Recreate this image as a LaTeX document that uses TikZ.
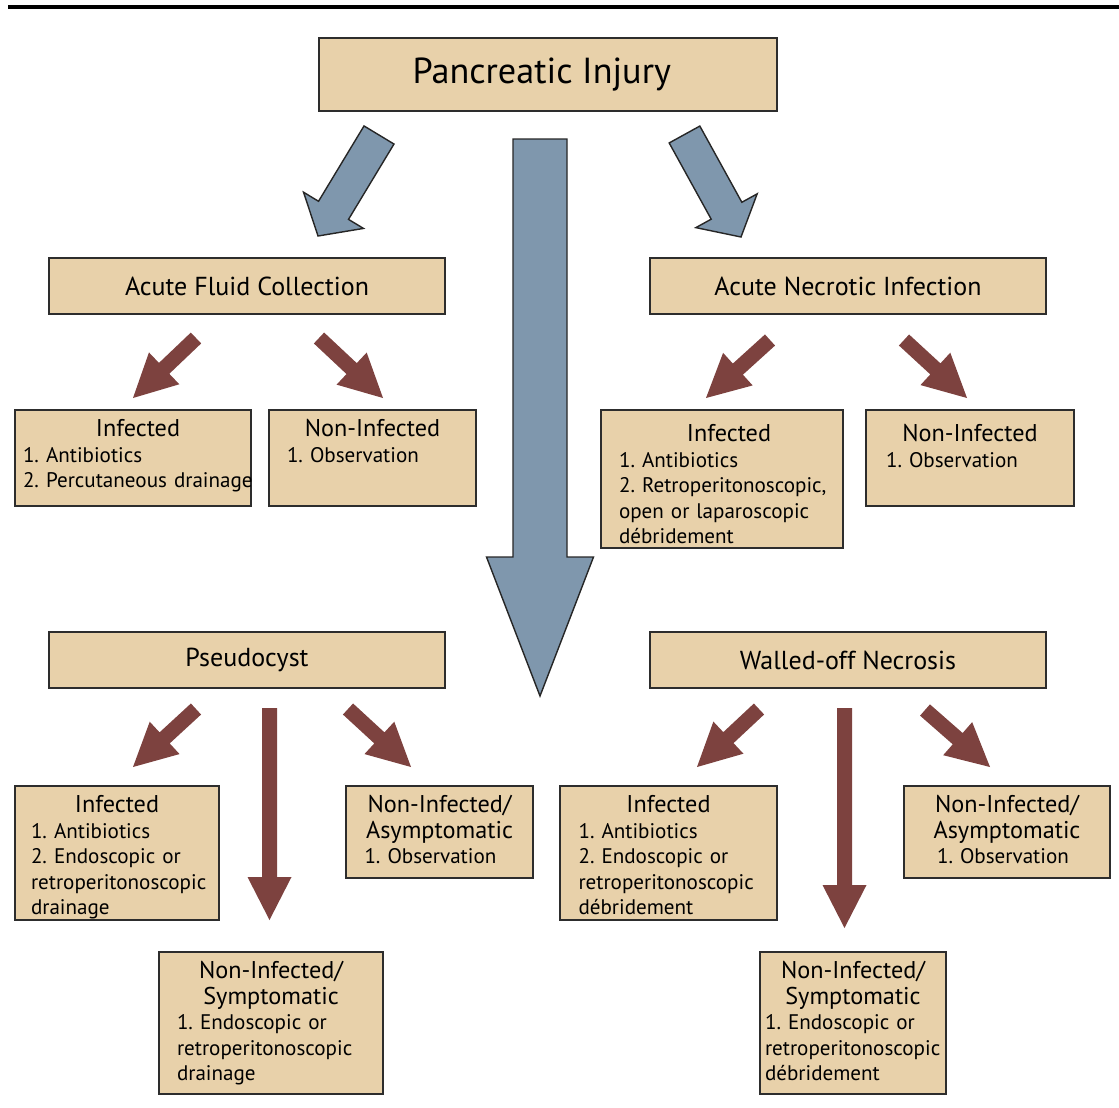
\documentclass[tikz,border=0pt]{standalone}
\usepackage{fontspec}
\setmainfont{PT Sans}
\usetikzlibrary{calc}
\definecolor{boxfill}{RGB}{232,209,170}
\definecolor{boxline}{RGB}{45,45,45}
\definecolor{steel}{RGB}{127,151,173}
\definecolor{wine}{RGB}{125,66,63}
\newcommand{\titlefont}{\fontsize{20.6}{24}\selectfont}
\newcommand{\groupfont}{\fontsize{14.8}{17}\selectfont}
\newcommand{\hdfont}{\fontsize{13.8}{15.3}\selectfont}
\newcommand{\listfont}{\fontsize{12}{14.5}\selectfont\frenchspacing\hyphenpenalty=10000\exhyphenpenalty=10000}
\newcommand{\hd}[1]{\makebox[\linewidth]{\hdfont #1}}
% block arrow: style, from, to, shaft half width, head half width, head length
\newcommand{\blockarrow}[6]{%
  \coordinate (ah) at ($(#3)!#6!(#2)$);
  \path[#1] ($(#2)!#4!90:(#3)$) -- ($(ah)!#4!90:(#3)$) -- ($(ah)!#5!90:(#3)$) -- (#3)
    -- ($(ah)!#5!-90:(#3)$) -- ($(ah)!#4!-90:(#3)$) -- ($(#2)!#4!-90:(#3)$) -- cycle;}

\begin{document}
\begin{tikzpicture}[
  box/.style={draw=boxline, line width=0.8pt, fill=boxfill, inner sep=0pt},
  txt/.style={anchor=north, align=left, inner sep=0pt, font=\listfont},
  bluearrow/.style={draw=black!85, line width=0.8pt, fill=steel, line join=miter},
  redarrow/.style={fill=wine}
]
  \useasboundingbox (0,0) rectangle (22.38,-22.14);
  \draw[line width=2.3pt] (0.16,-0.14) -- (22.38,-0.14);

  % Injury
  \node[box, minimum width=9.16cm, minimum height=1.46cm, font=\titlefont] (inj) at (10.96,-1.49) {Pancreatic Injury\hspace*{0.25cm}};

  % Early collections
  \node[box, minimum width=7.92cm, minimum height=1.12cm, font=\groupfont] (afc) at (4.94,-5.72) {Acute Fluid Collection};
  \node[box, minimum width=7.92cm, minimum height=1.12cm, font=\groupfont] (ani) at (16.96,-5.72) {Acute Necrotic Infection};

  \coordinate (injl) at (7.58,-2.70);  \coordinate (afctip) at (6.36,-4.72);
  \coordinate (injr) at (13.69,-2.69); \coordinate (anitip) at (14.82,-4.74);
  \coordinate (injc) at (10.80,-2.78); \coordinate (latetip) at (10.80,-13.92);
  \blockarrow{bluearrow}{injl}{afctip}{0.35cm}{0.70cm}{0.60cm}
  \blockarrow{bluearrow}{injr}{anitip}{0.35cm}{0.70cm}{0.60cm}
  \blockarrow{bluearrow}{injc}{latetip}{0.54cm}{1.07cm}{2.78cm}

  % Acute fluid collection
  \node[box, minimum width=4.72cm, minimum height=1.92cm] (afcinf) at (2.66,-9.16) {};
  \node[txt, text width=4.60cm] at ([xshift=0.1cm,yshift=-0.2cm]afcinf.north) {\hd{Infected}\\1. Antibiotics\\2. Percutaneous drainage};
  \node[box, minimum width=4.14cm, minimum height=1.92cm] (afcnon) at (7.45,-9.16) {};
  \node[txt, text width=3.42cm] at ([yshift=-0.2cm]afcnon.north) {\hd{Non-Infected}\\1. Observation};

  \coordinate (afcl) at (3.92,-6.76); \coordinate (afcinftip) at (2.66,-7.96);
  \coordinate (afcr) at (6.38,-6.76); \coordinate (afcnontip) at (7.66,-7.96);
  \blockarrow{redarrow}{afcl}{afcinftip}{0.15cm}{0.44cm}{0.86cm}
  \blockarrow{redarrow}{afcr}{afcnontip}{0.15cm}{0.44cm}{0.86cm}

  % Acute necrotic infection
  \node[box, minimum width=4.84cm, minimum height=2.76cm] (aniinf) at (14.44,-9.58) {};
  \node[txt, text width=4.40cm] at ([xshift=0.14cm,yshift=-0.3cm]aniinf.north) {\hd{Infected}\\1. Antibiotics\\2. Retroperitonoscopic,\\open or laparoscopic\\débridement};
  \node[box, minimum width=4.16cm, minimum height=1.92cm] (aninon) at (19.40,-9.16) {};
  \node[txt, text width=3.36cm] at ([yshift=-0.3cm]aninon.north) {\hd{Non-Infected}\\1. Observation};

  \coordinate (anil) at (15.40,-6.80); \coordinate (aniinftip) at (14.12,-7.96);
  \coordinate (anir) at (18.08,-6.80); \coordinate (aninontip) at (19.34,-7.96);
  \blockarrow{redarrow}{anil}{aniinftip}{0.15cm}{0.44cm}{0.86cm}
  \blockarrow{redarrow}{anir}{aninontip}{0.15cm}{0.44cm}{0.86cm}

  % Late collections
  \node[box, minimum width=7.92cm, minimum height=1.12cm, font=\groupfont] (pc) at (4.94,-13.2) {Pseudocyst};
  \node[box, minimum width=7.92cm, minimum height=1.12cm, font=\groupfont] (won) at (16.96,-13.2) {Walled-off Necrosis};

  % Pseudocyst
  \node[box, minimum width=4.08cm, minimum height=2.68cm] (pcinf) at (2.34,-17.06) {};
  \node[txt, text width=3.44cm] at ([yshift=-0.2cm]pcinf.north) {\hd{Infected}\\1. Antibiotics\\2. Endoscopic or\\retroperitonoscopic\\drainage};
  \node[box, minimum width=3.74cm, minimum height=1.84cm] (pcasym) at (8.79,-16.64) {};
  \node[txt, text width=3.00cm] at ([yshift=-0.2cm]pcasym.north) {\hd{Non-Infected/}\\\hd{Asymptomatic}\\1. Observation};
  \node[box, minimum width=4.48cm, minimum height=2.84cm] (pcsym) at (5.42,-20.46) {};
  \node[txt, text width=3.76cm] at ([yshift=-0.2cm]pcsym.north) {\hd{Non-Infected/}\\\hd{Symptomatic}\\1. Endoscopic or\\retroperitonoscopic\\drainage};

  \coordinate (pcl) at (3.92,-14.18); \coordinate (pcinftip) at (2.66,-15.34);
  \coordinate (pcc) at (5.39,-14.16); \coordinate (pcsymtip) at (5.39,-18.40);
  \coordinate (pcr) at (6.96,-14.18); \coordinate (pcasymtip) at (8.22,-15.34);
  \blockarrow{redarrow}{pcl}{pcinftip}{0.15cm}{0.44cm}{0.86cm}
  \blockarrow{redarrow}{pcc}{pcsymtip}{0.15cm}{0.44cm}{0.86cm}
  \blockarrow{redarrow}{pcr}{pcasymtip}{0.15cm}{0.44cm}{0.86cm}

  % Walled-off necrosis
  \node[box, minimum width=4.34cm, minimum height=2.68cm] (woninf) at (13.37,-17.06) {};
  \node[txt, text width=3.60cm] at ([yshift=-0.2cm]woninf.north) {\hd{Infected}\\1. Antibiotics\\2. Endoscopic or\\retroperitonoscopic\\débridement};
  \node[box, minimum width=4.12cm, minimum height=1.84cm] (wonasym) at (20.14,-16.64) {};
  \node[txt, text width=2.80cm] at ([yshift=-0.2cm]wonasym.north) {\hd{Non-Infected/}\\\hd{Asymptomatic}\\1. Observation};
  \node[box, minimum width=3.72cm, minimum height=2.84cm] (wonsym) at (17.06,-20.46) {};
  \node[txt, text width=3.52cm] at ([yshift=-0.2cm]wonsym.north) {\hd{Non-Infected/}\\\hd{Symptomatic}\\1. Endoscopic or\\retroperitonoscopic\\débridement};

  \coordinate (wonl) at (15.18,-14.18); \coordinate (woninftip) at (13.94,-15.34);
  \coordinate (wonc) at (16.89,-14.16); \coordinate (wonsymtip) at (16.89,-18.56);
  \coordinate (wonr) at (18.50,-14.20); \coordinate (wonasymtip) at (19.80,-15.34);
  \blockarrow{redarrow}{wonl}{woninftip}{0.15cm}{0.44cm}{0.86cm}
  \blockarrow{redarrow}{wonc}{wonsymtip}{0.15cm}{0.44cm}{0.86cm}
  \blockarrow{redarrow}{wonr}{wonasymtip}{0.15cm}{0.44cm}{0.86cm}
\end{tikzpicture}
\end{document}
